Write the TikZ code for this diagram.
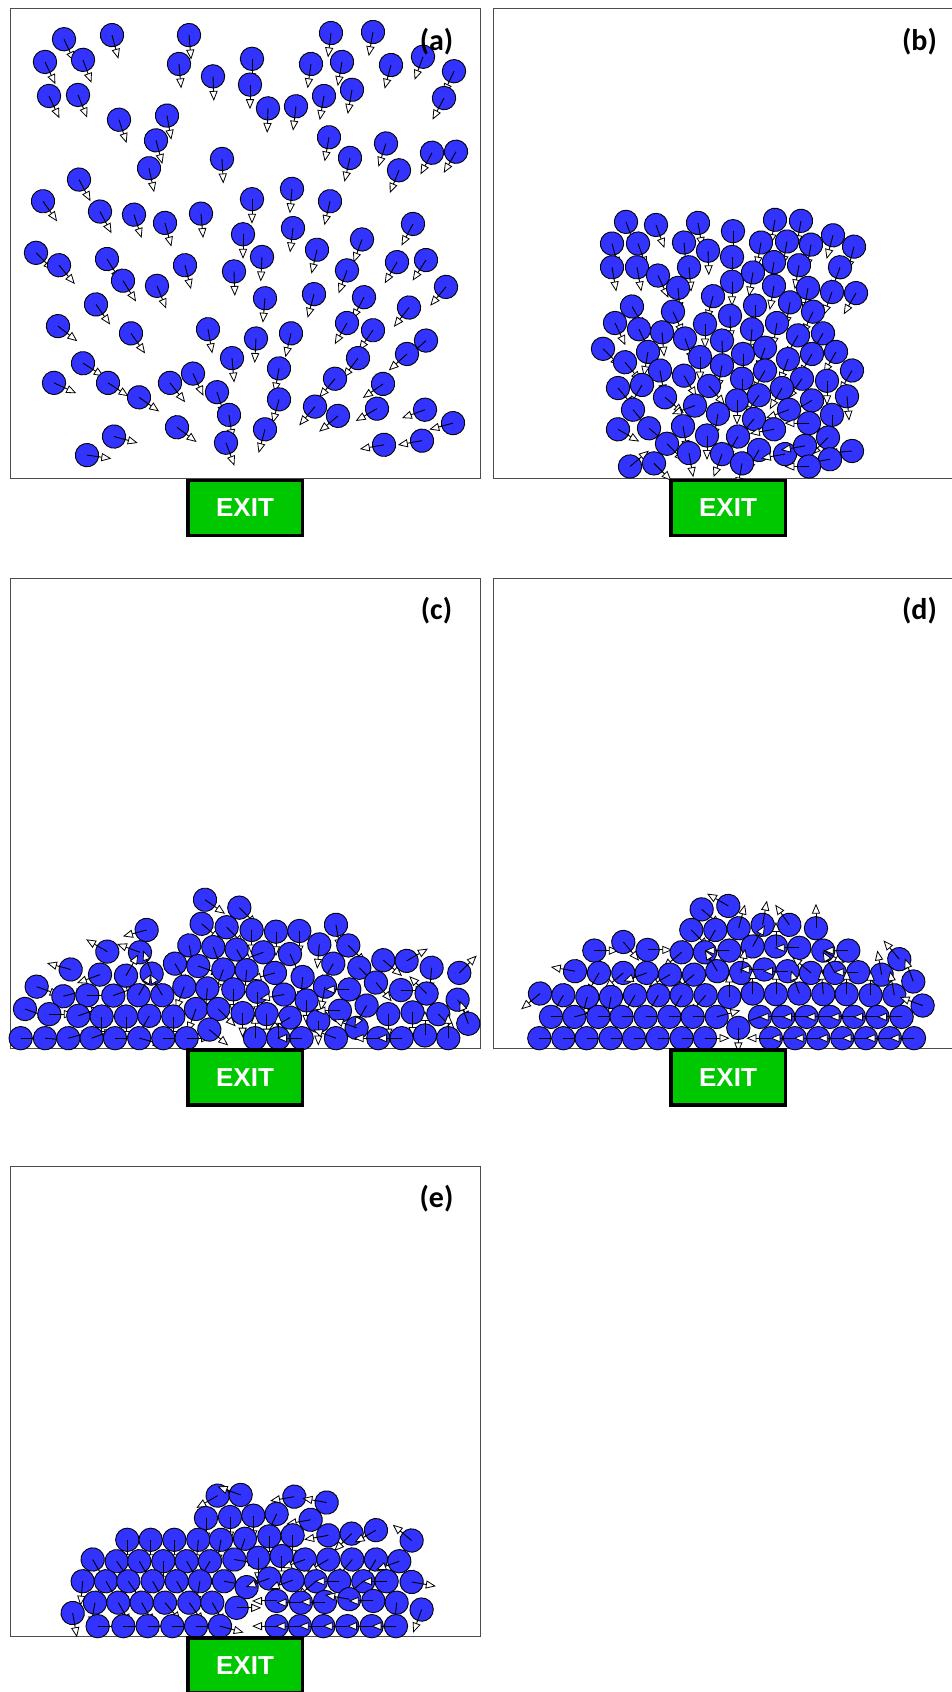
\documentclass[tikz,border=0pt]{standalone}
\usepackage{fontspec}
\setmainfont{Liberation Sans}
\newfontfamily\tagfont{Carlito}

\definecolor{agentblue}{RGB}{51,51,255}
\definecolor{exitgreen}{RGB}{0,200,0}

\tikzset{
    agentbody/.style={fill=agentblue, draw=black, line width=0.9pt},
    heading/.style={draw=black, line width=0.9pt},
    tipmark/.style={fill=white, draw=black, line width=0.8pt, line join=miter},
    frame/.style={draw=black!70, line width=1pt},
    exitbox/.style={draw=black, line width=3.5pt, fill=exitgreen, minimum width=114.5pt,
        minimum height=55pt, inner sep=0pt, text=white,
        font=\bfseries\fontsize{26}{26}\selectfont},
    tag/.style={font=\tagfont\bfseries\fontsize{30}{30}\selectfont}
}

% one pedestrian: body, heading line and open arrow tip (#3 = heading, 90 = down)
\newcommand{\agent}[3]{%
    \begin{scope}[shift={(#1,#2)}, rotate=-#3]
        \draw[agentbody] (0,0) circle (11.7pt);
        \draw[heading] (0,0) -- (15pt,0);
        \draw[tipmark] (15pt,3.6pt) -- (23.5pt,0pt) -- (15pt,-3.6pt) -- cycle;
    \end{scope}}

\begin{document}
\begin{tikzpicture}[x=1pt, y=-1pt]
    \useasboundingbox (0,0) rectangle (952,1692);

    % rooms
    \draw[frame] (10,8.5) rectangle (480,478);
    \draw[frame] (493,8.5) rectangle (965,478);
    \draw[frame] (10,578.5) rectangle (480,1048);
    \draw[frame] (493,578.5) rectangle (965,1048);
    \draw[frame] (10,1166) rectangle (480,1636.5);

    % (a) scattered start
    \begin{scope}[y=-1.032pt]
    \foreach \x/\y/\a in {64/38/65, 112/34/75, 189/34/85, 331/32/97, 373/31/100,
        45/60/65, 83/58/70, 179/62/85, 252/57/90, 311/62/98, 342/60/100, 391/63/105, 423/55/110, 454/69/115,
        49/93/65, 78/92/68, 213/74/88, 250/82/90, 268/105/92, 296/103/97, 324/93/100, 352/87/100, 444/95/118,
        119/116/72, 167/112/80, 156/136/75, 149/163/78, 222/154/87, 329/133/100, 350/153/103, 386/139/108,
        399/165/112, 432/148/118, 456/147/120,
        79/174/62, 43/195/55, 100/205/62, 134/208/72, 165/216/75, 201/207/85, 252/193/90, 292/183/95, 330/195/103,
        243/227/90, 293/221/97, 362/232/110, 413/217/118,
        36/245/45, 59/257/50, 107/251/58, 123/272/58, 157/277/68, 185/257/76, 234/263/88, 262/249/93,
        317/242/103, 347/262/110, 397/254/120, 426/252/123, 446/278/130,
        96/295/55, 265/289/95, 314/285/105, 364/288/118, 409/298/128,
        58/316/38, 131/323/55, 208/319/80, 256/328/93, 291/323/103, 347/313/120, 373/320/125, 426/330/138, 407/343/138,
        232/347/85, 358/347/127, 335/367/130,
        83/352/32, 54/371/25, 108/371/33, 139/385/35, 170/371/52, 193/362/65, 217/380/72, 279/357/100, 279/387/105,
        229/402/82, 226/429/70, 265/416/105, 315/394/130, 338/403/140, 383/372/145, 377/396/150, 425/397/160,
        453/410/165, 422/427/170, 384/431/170,
        177/414/37, 114/423/15, 87/441/8}
        \agent{\x}{\y}{\a};
    \end{scope}

    % (b) block moving down
    \begin{scope}[y=-1.032pt]
    \foreach \x/\y/\a in {626/215/70, 656/218/70, 698/216/80, 733/224/90, 775/213/100, 801/214/100, 833/228/105, 854/239/105,
        612/236/75, 638/236/70, 684/235/85, 708/243/88, 732/249/90, 761/235/100, 787/234/100, 811/237/100, 840/259/110,
        612/259/80, 637/259/80, 658/267/65, 689/259/85, 732/273/90, 753/264/100, 774/254/100, 799/257/100,
        774/277/100, 808/279/100, 832/283/110, 856/284/120, 678/279/85,
        632/297/60, 713/287/105, 755/296/90, 790/293/100, 813/302/115, 673/302/65,
        615/313/65, 639/319/65, 662/322/85, 685/328/70, 705/314/90, 730/306/88, 752/319/95, 777/313/100, 798/325/120, 823/323/120,
        603/338/45, 625/351/50, 648/341/100, 660/359/80, 684/364/60, 700/346/90, 722/330/88, 722/354/100, 743/343/90,
        765/337/110, 788/348/110, 812/343/120, 836/341/120, 852/359/120, 742/367/90, 765/359/120, 802/367/125, 827/369/90,
        618/376/50, 642/373/120, 665/385/40, 709/374/50, 695/393/160, 737/388/90, 759/383/125, 782/376/120, 812/388/150,
        847/384/85, 633/397/50, 718/401/100, 754/406/130, 789/397/160, 832/402/90,
        618/416/30, 649/415/40, 683/413/80, 707/422/90, 738/423/120, 774/416/170, 809/410/180, 828/424/135,
        667/430/45, 689/439/80, 722/440/110, 759/436/120, 785/440/170, 805/432/170, 852/437/175, 830/445/170,
        630/452/320, 654/449/45, 742/449/100, 809/452/180}
        \agent{\x}{\y}{\a};
    \end{scope}

    % (c) heap at the exit
    \begin{scope}[shift={(0,571)}, x=0.3333pt, y=-0.3435pt]
    \foreach \x/\y/\a in {615/957/35, 718/980/45,
        440/1045/165, 605/1027/40, 680/1037/45, 755/1045/90, 828/1050/90, 898/1048/90, 1008/1030/80,
        322/1108/210, 420/1110/200, 568/1090/80, 640/1095/70, 710/1102/60, 790/1110/160, 870/1115/65, 958/1087/95, 1045/1090/45,
        212/1160/195, 300/1175/160, 378/1178/300, 455/1172/250, 525/1143/60, 595/1150/20, 670/1160/110, 740/1162/95,
        825/1170/165, 908/1182/95, 1000/1143/120, 1078/1155/45, 1150/1133/40, 1220/1135/330, 1295/1155/95, 1378/1170/315,
        110/1210/20, 190/1238/345, 262/1235/0, 340/1236/340, 416/1235/300, 487/1235/240, 553/1210/110, 622/1215/95,
        700/1218/90, 773/1225/90, 852/1233/170, 920/1250/90, 975/1210/100, 1048/1218/180, 1128/1198/50, 1203/1220/0,
        1280/1230/225, 1373/1248/60,
        75/1275/20, 148/1290/0, 235/1295/340, 305/1297/90, 378/1297/90, 448/1295/120, 520/1297/90, 588/1275/110,
        655/1275/45, 728/1287/90, 800/1290/90, 870/1300/150, 955/1310/90, 1020/1280/180, 1070/1330/200, 1100/1265/120,
        1165/1290/90, 1238/1285/90, 1315/1290/45, 1405/1318/250,
        62/1360/0, 135/1360/5, 205/1360/345, 275/1360/340, 345/1360/0, 418/1360/15, 490/1360/0, 560/1360/0, 628/1335/40,
        765/1360/270, 835/1360/270, 905/1360/180, 1008/1360/200, 1135/1360/180, 1205/1360/180, 1275/1352/270, 1345/1360/270}
        \agent{\x}{\y}{\a};
    \end{scope}

    % (d) layered heap
    \begin{scope}[shift={(480,571)}, x=0.3333pt, y=-0.3435pt]
    \foreach \x/\y/\a in {665/985/40, 745/975/210,
        634/1045/45, 706/1045/120, 776/1040/285, 848/1030/280, 928/1030/235, 1008/1040/270,
        343/1105/0, 430/1080/50, 503/1103/0, 605/1110/140, 675/1110/60, 748/1105/180, 818/1093/300, 888/1093/270,
        958/1097/180, 1030/1105/30, 1105/1105/180,
        285/1165/190, 357/1170/120, 430/1170/140, 500/1170/160, 570/1175/150, 642/1175/140, 712/1165/240, 783/1170/280,
        853/1160/180, 923/1165/180, 993/1170/220, 1065/1170/240, 1135/1168/180, 1205/1175/260, 1258/1130/230,
        180/1230/140, 250/1235/120, 322/1240/105, 393/1240/100, 465/1235/120, 535/1235/120, 605/1235/120, 677/1235/130,
        748/1240/270, 818/1230/270, 888/1232/270, 958/1230/250, 1030/1232/265, 1100/1232/270, 1172/1235/270,
        1243/1235/260, 1300/1195/250,
        213/1298/0, 283/1298/345, 355/1298/0, 425/1298/0, 497/1298/0, 568/1298/0, 638/1298/0, 710/1298/345,
        840/1298/160, 910/1298/180, 980/1298/180, 1050/1298/180, 1122/1298/180, 1193/1298/180, 1265/1298/180, 1328/1265/200,
        178/1360/0, 250/1360/0, 320/1360/0, 392/1360/0, 462/1360/0, 533/1360/0, 605/1360/0, 675/1360/0, 775/1330/90,
        873/1360/180, 945/1360/180, 1015/1360/180, 1087/1360/180, 1158/1360/180, 1230/1360/180, 1302/1360/180}
        \agent{\x}{\y}{\a};
    \end{scope}

    % (e) late heap
    \begin{scope}[shift={(0,1150.3)}, x=0.3333pt, y=-0.3453pt]
    \foreach \x/\y/\a in {653/1000/150, 722/998/200, 883/1003/170, 980/1020/190,
        618/1065/90, 690/1062/90, 760/1058/90, 830/1053/115, 932/1070/170,
        382/1128/90, 452/1128/90, 523/1128/90, 595/1128/95, 663/1128/100, 735/1125/110, 808/1118/90, 878/1115/90,
        985/1115/170, 1055/1110/135, 1128/1100/150, 1235/1130/220,
        278/1185/60, 350/1190/55, 418/1190/60, 490/1190/90, 560/1190/60, 630/1190/120, 703/1185/10, 775/1180/90,
        845/1175/90, 915/1185/160, 985/1185/150, 1057/1185/130, 1128/1185/120, 1198/1190/160,
        248/1248/95, 318/1248/60, 385/1248/55, 458/1248/60, 530/1248/60, 600/1248/100, 672/1248/10, 740/1265/330,
        808/1240/160, 878/1245/160, 948/1248/140, 1018/1248/180, 1090/1248/140, 1160/1248/180, 1235/1250/10,
        285/1310/100, 355/1310/60, 425/1310/60, 495/1310/50, 568/1310/55, 637/1310/60, 710/1325/0, 830/1305/180,
        903/1310/180, 975/1308/180, 1048/1300/190, 1120/1305/180, 1190/1310/95, 1265/1330/110,
        218/1340/80, 293/1378/0, 370/1378/0, 443/1378/0, 517/1378/0, 588/1378/0, 660/1378/15,
        830/1378/180, 900/1378/180, 970/1378/180, 1042/1378/180, 1115/1378/180, 1188/1378/180}
        \agent{\x}{\y}{\a};
    \end{scope}

    % exits
    \node[exitbox] (exitA) at (245,507.8) {EXIT};
    \node[exitbox] (exitB) at (728,507.8) {EXIT};
    \node[exitbox] (exitC) at (245,1077.5) {EXIT};
    \node[exitbox] (exitD) at (728,1077.5) {EXIT};
    \node[exitbox] (exitE) at (245,1665.7) {EXIT};

    % panel tags
    \node[tag] (tagA) at (436.5,42) {(a)};
    \node[tag] (tagB) at (919.5,42) {(b)};
    \node[tag] (tagC) at (436.5,611) {(c)};
    \node[tag] (tagD) at (919.5,611) {(d)};
    \node[tag] (tagE) at (436.5,1198.5) {(e)};
\end{tikzpicture}
\end{document}
